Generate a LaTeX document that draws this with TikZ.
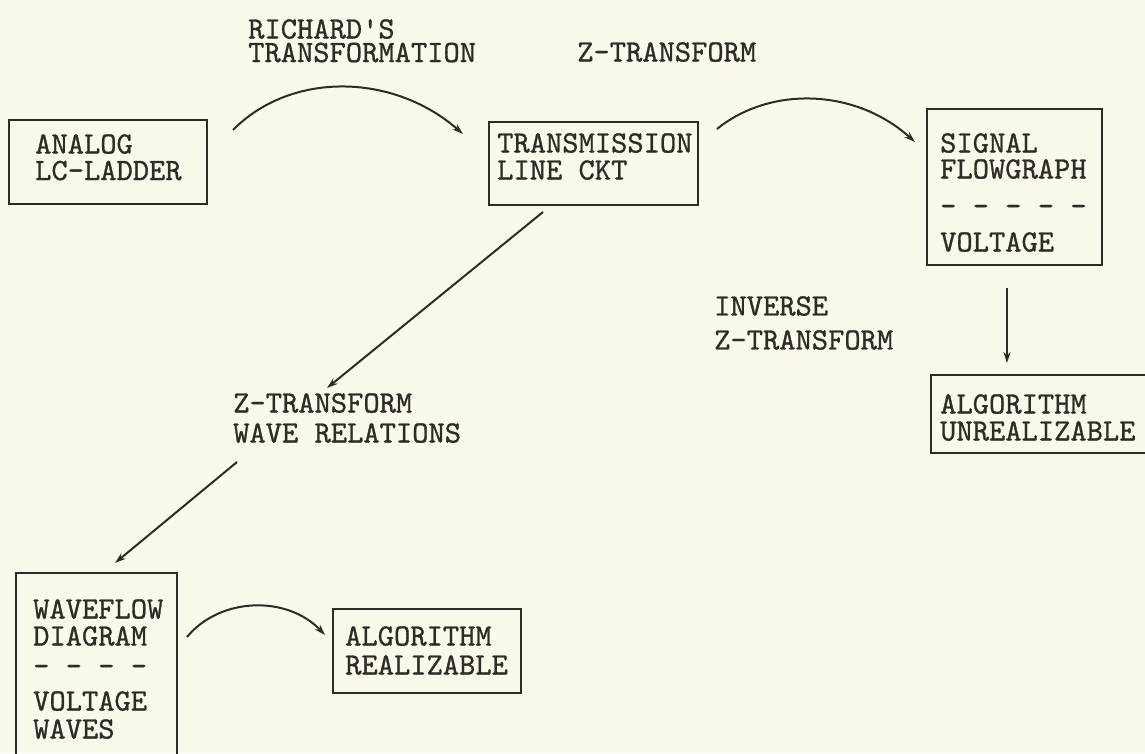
\documentclass[tikz,border=0pt]{standalone}
\usepackage{fontspec}
\usetikzlibrary{arrows.meta}
\definecolor{bg}{RGB}{250,250,236}
\definecolor{ink}{RGB}{48,43,38}
\newfontfamily\twfam{lmmono10-regular.otf}[FakeBold=0.9]
\newcommand{\twf}[1]{\twfam\fontsize{31}{#1}\selectfont}
\begin{document}
\begin{tikzpicture}[x=1pt,y=-1pt,
  box/.style={draw=ink, line width=2.3pt, rectangle, inner sep=0pt, anchor=north west},
  txt/.style={text=ink, inner sep=0pt, anchor=north west, align=left},
  arr/.style={draw=ink, line width=2pt, -{Stealth[length=11pt,width=7pt]}}]
\fill[bg] (0,0) rectangle (1145,753);
\useasboundingbox (0,0) rectangle (1145,753);

% boxes
\node[box, minimum width=198, minimum height=84] (analog) at (8,119) {};
\node[box, minimum width=209, minimum height=83] (trans) at (488,121) {};
\node[box, minimum width=175, minimum height=156] (signal) at (926,108) {};
\node[box, minimum width=240, minimum height=78] (unreal) at (930,374) {};
\node[box, minimum width=161, minimum height=200] (wave) at (15,572) {};
\node[box, minimum width=188, minimum height=84] (real) at (332,608) {};

% box texts
\node[txt, font=\twf{26.5}] (tanalog) at (35,134) {ANALOG\\LC-LADDER};
\node[txt, font=\twf{27}] (ttrans) at (497,133) {TRANSMISSION\\LINE CKT};
\node[txt, font=\twf{26}] (tsignal) at (940,133) {SIGNAL\\FLOWGRAPH\\[11pt]- - - - -\\[10pt]VOLTAGE};
\node[txt, font=\twf{27}] (tunreal) at (940,394) {ALGORITHM\\UNREALIZABLE};
\node[txt, font=\twf{27}] (twave) at (33,599) {WAVEFLOW\\DIAGRAM\\[3pt]- - - -\\[8pt]VOLTAGE\\[1pt]WAVES};
\node[txt, font=\twf{29}] (treal) at (345,626) {ALGORITHM\\REALIZABLE};

% labels
\node[txt, font=\twf{23.5}] (lrich) at (248,19) {RICHARD'S\\TRANSFORMATION};
\node[txt, font=\twf{27}] (lz) at (577,42) {Z-TRANSFORM};
\node[txt, font=\twf{34}] (linv) at (714,296) {INVERSE\\Z-TRANSFORM};
\node[txt, font=\twf{30}] (lzw) at (233,393) {Z-TRANSFORM\\WAVE RELATIONS};

% connector end points
\coordinate (a1s) at (233,130);
\coordinate (a1e) at (463,134);
\coordinate (a2s) at (717,129);
\coordinate (a2e) at (915,142);
\coordinate (a3s) at (543,212);
\coordinate (a3e) at (327,388);
\coordinate (a4s) at (237,462);
\coordinate (a4e) at (115,563);
\coordinate (a5s) at (1007,288);
\coordinate (a5e) at (1007,363);
\coordinate (a6s) at (187,637);
\coordinate (a6e) at (325,635);

% connectors
\draw[arr] (a1s) .. controls (290,72) and (392,72) .. (a1e);
\draw[arr] (a2s) .. controls (770,86) and (855,88) .. (a2e);
\draw[arr] (a3s) -- (a3e);
\draw[arr] (a4s) -- (a4e);
\draw[arr] (a5s) -- (a5e);
\draw[arr] (a6s) .. controls (220,597) and (287,595) .. (a6e);
\end{tikzpicture}
\end{document}
